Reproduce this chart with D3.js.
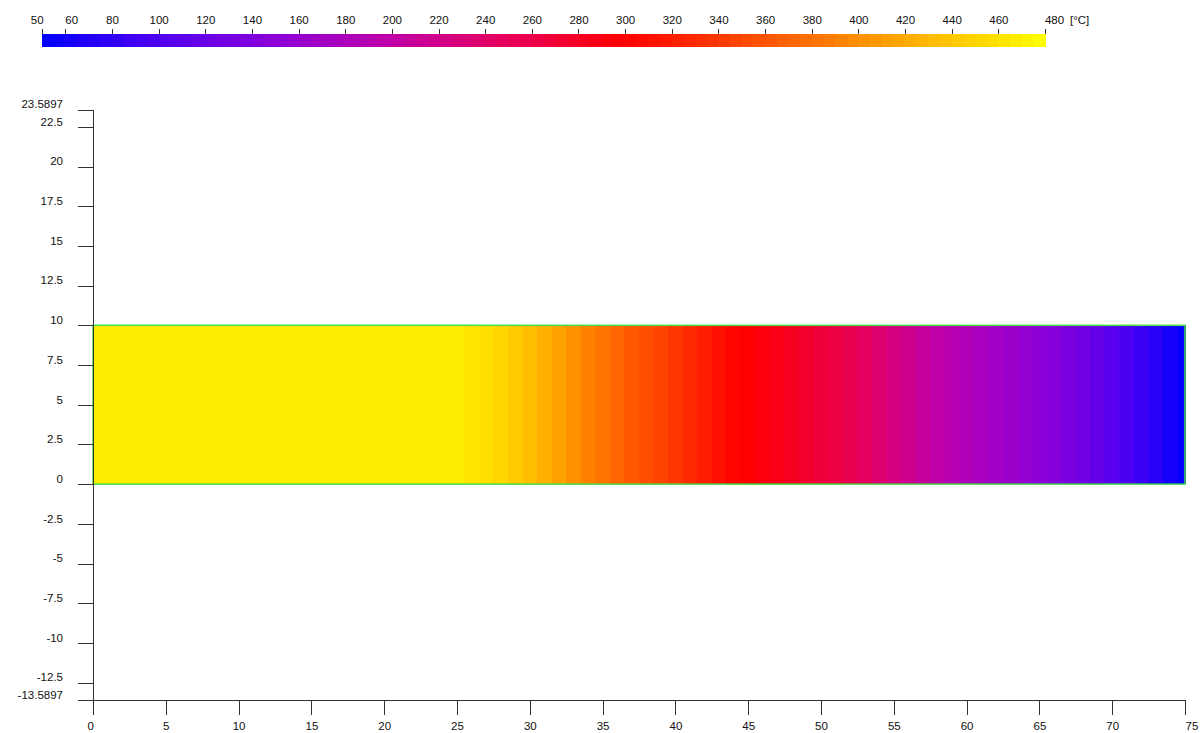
<!DOCTYPE html>
<html lang="en">
<head>
  <meta charset="UTF-8">
  <title>Temperature field</title>
  <script src="https://d3js.org/d3.v7.min.js"></script>
  <style>
    body {
      margin: 0;
      background: #fff;
      font-family: "Liberation Sans", Arial, sans-serif;
    }
    .axis text {
      font-size: 11.5px;
      fill: #111;
      font-family: "Liberation Sans", Arial, sans-serif;
    }
    .axis path, .axis line {
      stroke: #333;
      shape-rendering: crispEdges;
    }
  </style>
</head>
<body>
  <svg width="1202" height="733"></svg>

  <script>
    // colour legend
    const legendTicks = [50, 60, 80, 100, 120, 140, 160, 180, 200, 220, 240, 260, 280, 300,
      320, 340, 360, 380, 400, 420, 440, 460, 480];
    const colorStopT = [50, 100, 150, 200, 250, 300, 390, 480];
    const colorStopC = ['#0000ff', '#5000f0', '#8c00d8', '#c000a8', '#e8005a', '#ff0000', '#ff8000', '#ffff00'];

    // axes
    const xTicks = [0, 5, 10, 15, 20, 25, 30, 35, 40, 45, 50, 55, 60, 65, 70, 75];
    const yTicks = [23.5897, 22.5, 20, 17.5, 15, 12.5, 10, 7.5, 5, 2.5, 0, -2.5, -5, -7.5, -10, -12.5, -13.5897];

    // strip geometry
    const stripBottom = 0;
    const stripTop = 10;

    // temperature along x: each segment starts at segX[i] with value segT[i]
    const segX = [0, 25.5, 26.5, 27.5, 28.5, 29.5, 30.5, 31.5, 32.5, 33.5, 34.5, 35.5, 36.5, 37.5, 38.5,
      39.5, 40.5, 41.5, 42.5, 43.5, 44.5, 45.5, 46.5, 47.5, 48.5, 49.5, 50.5, 51.5, 52.5, 53.5, 54.5,
      55.5, 56.5, 57.5, 58.5, 59.5, 60.5, 61.5, 62.5, 63.5, 64.5, 65.5, 66.5, 67.5, 68.5, 69.5, 70.5,
      71.5, 72.5, 73.5, 74.5];
    const segT = [467, 462, 457, 451, 443, 434, 424, 414, 402, 391, 381, 371, 362, 355, 347,
      338, 329, 320, 311, 303, 300, 293, 287, 281, 274, 268, 262, 255, 246, 235,
      225, 216, 207, 199, 191, 184, 177, 170, 164, 158, 151, 144, 136, 127, 117, 107,
      97, 86, 75, 63, 52];
    const xMax = 75;

    const svg = d3.select('svg');

    const color = d3.scaleLinear().domain(colorStopT).range(colorStopC).clamp(true);

    // ---- colour bar ----
    const cb = { left: 42, right: 1045, top: 34, height: 13 };
    const cbScale = d3.scaleLinear().domain([legendTicks[0], legendTicks[legendTicks.length - 1]])
      .range([cb.left, cb.right]);
    const steps = d3.range(legendTicks[0], legendTicks[legendTicks.length - 1], 5);

    svg.append('g').selectAll('rect')
      .data(steps)
      .join('rect')
      .attr('x', d => cbScale(d))
      .attr('y', cb.top)
      .attr('width', d => cbScale(d + 5) - cbScale(d) + 0.5)
      .attr('height', cb.height)
      .attr('fill', d => color(d + 2.5))
      .attr('shape-rendering', 'crispEdges');

    const cbAxis = svg.append('g')
      .attr('class', 'axis')
      .attr('transform', `translate(0,${cb.top})`)
      .call(d3.axisTop(cbScale).tickValues(legendTicks).tickSize(5).tickPadding(5).tickSizeOuter(0));
    cbAxis.select('.domain').remove();
    cbAxis.selectAll('text')
      .attr('text-anchor', (d, i) => i === 0 ? 'end' : (i === 1 || i === legendTicks.length - 1) ? 'start' : 'middle')
      .attr('dx', (d, i) => i === 0 ? '0.1em' : (i === 1 || i === legendTicks.length - 1) ? '-0.05em' : 0);

    svg.append('text')
      .attr('x', 1070)
      .attr('y', cb.top - 10)
      .attr('font-size', '11.5px')
      .attr('fill', '#111')
      .text('[°C]');

    // ---- plot ----
    const x = d3.scaleLinear().domain([0, xMax]).range([93, 1185]);
    const y = d3.scaleLinear().domain([yTicks[yTicks.length - 1], yTicks[0]]).range([700, 109.5]);

    const segs = segX.map((sx, i) => ({
      x0: sx,
      x1: i < segX.length - 1 ? segX[i + 1] : xMax,
      t: segT[i]
    }));

    svg.append('g').selectAll('rect')
      .data(segs)
      .join('rect')
      .attr('x', d => x(d.x0))
      .attr('y', y(stripTop))
      .attr('width', d => x(d.x1) - x(d.x0) + 0.5)
      .attr('height', y(stripBottom) - y(stripTop))
      .attr('fill', d => color(d.t))
      .attr('shape-rendering', 'crispEdges');

    svg.append('rect')
      .attr('x', x(0))
      .attr('y', y(stripTop))
      .attr('width', x(xMax) - x(0))
      .attr('height', y(stripBottom) - y(stripTop))
      .attr('fill', 'none')
      .attr('stroke', '#44dd44')
      .attr('stroke-width', 1.5);

    const xAxis = svg.append('g')
      .attr('class', 'axis')
      .attr('transform', `translate(0,${y(yTicks[yTicks.length - 1])})`)
      .call(d3.axisBottom(x).tickValues(xTicks).tickSize(15).tickPadding(7).tickSizeOuter(0));
    xAxis.selectAll('text')
      .attr('text-anchor', (d, i) => i === xTicks.length - 1 ? 'start' : 'middle')
      .attr('dx', (d, i) => i === 0 ? '-0.25em' : 0);

    svg.append('g')
      .attr('class', 'axis')
      .attr('transform', `translate(${x(0)},0)`)
      .call(d3.axisLeft(y).tickValues(yTicks).tickFormat(d => String(d)).tickSize(15).tickPadding(15).tickSizeOuter(0))
      .selectAll('text')
      .attr('dy', '-0.15em');
  </script>
</body>
</html>
